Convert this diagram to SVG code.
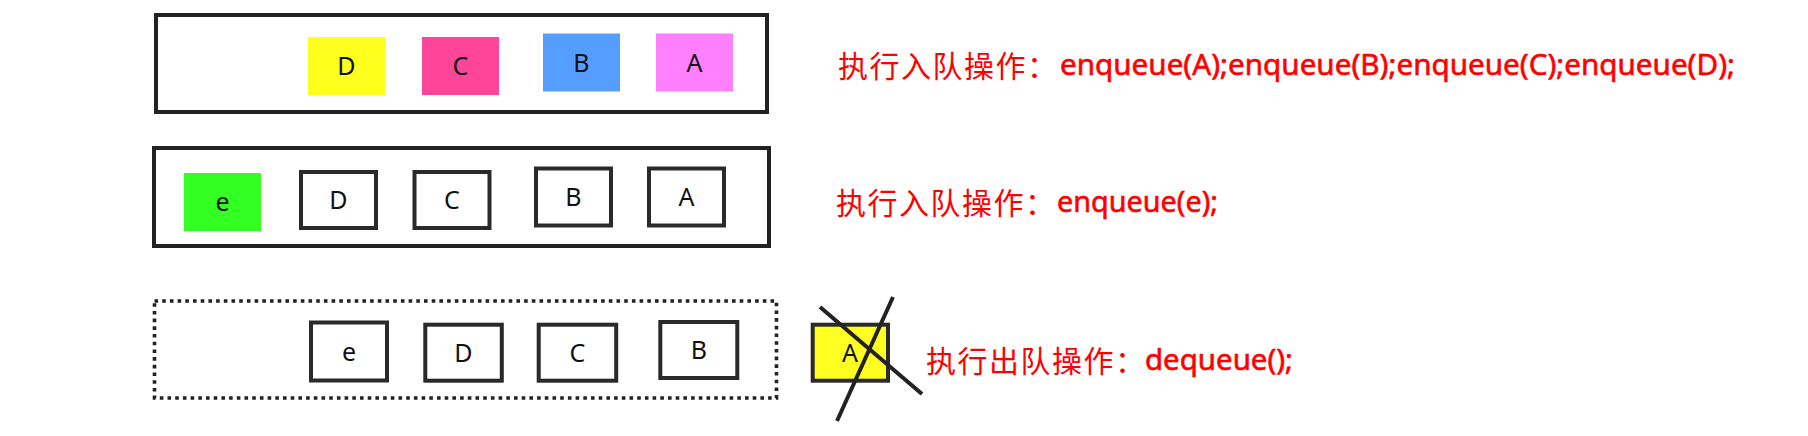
<svg xmlns="http://www.w3.org/2000/svg" width="1808" height="436" viewBox="0 0 1808 436">
<style>
.bg{fill:#ffffff}
.frame{fill:none;stroke:#222;stroke-width:4}
.dotted{fill:none;stroke:#222;stroke-width:3.6;stroke-dasharray:3.6 4.1}
.box{fill:#ffffff;stroke:#2a2a2a;stroke-width:4}
.hit{fill:#ffff22}
.lbl{font-family:"Noto Sans","DejaVu Sans",sans-serif;font-size:25px;fill:#111;text-anchor:middle}
.cn{font-family:"Noto Sans CJK SC","Noto Sans",sans-serif;font-size:30px;fill:#ff0000}
.en{font-family:"Noto Sans","DejaVu Sans",sans-serif;font-size:29px;fill:#ff0000;stroke:#ff0000;stroke-width:0.6}
.cross{stroke:#222;stroke-width:4;stroke-linecap:butt}
</style>
<rect class="bg" x="0" y="0" width="1808" height="436"/>

<g id="row1">
  <rect class="frame" x="156" y="15" width="611" height="97"/>
  <g id="r1-D"><rect x="308" y="37" width="77" height="58" fill="#ffff1e"/><text class="lbl" x="346.5" y="75">D</text></g>
  <g id="r1-C"><rect x="422" y="37" width="77" height="58" fill="#ff4599"/><text class="lbl" x="460.5" y="75">C</text></g>
  <g id="r1-B"><rect x="543" y="33.5" width="77" height="58" fill="#559dff"/><text class="lbl" x="581.5" y="71.5">B</text></g>
  <g id="r1-A"><rect x="656" y="33.5" width="77" height="58" fill="#ff80ff"/><text class="lbl" x="694.5" y="71.5">A</text></g>
  <g id="r1-text">
    <text class="cn" x="838" y="77" textLength="219" lengthAdjust="spacing">执行入队操作：</text>
    <text class="en" x="1060" y="75" textLength="675" lengthAdjust="spacingAndGlyphs">enqueue(A);enqueue(B);enqueue(C);enqueue(D);</text>
  </g>
</g>

<g id="row2">
  <rect class="frame" x="154" y="148" width="615" height="98"/>
  <g id="r2-e"><rect x="184" y="173" width="77" height="58" fill="#33ff22"/><text class="lbl" x="222.5" y="211">e</text></g>
  <g id="r2-D"><rect class="box" x="301" y="172" width="75" height="56"/><text class="lbl" x="338.5" y="209">D</text></g>
  <g id="r2-C"><rect class="box" x="414.5" y="172" width="75" height="56"/><text class="lbl" x="452" y="209">C</text></g>
  <g id="r2-B"><rect class="box" x="536" y="168.5" width="75" height="57"/><text class="lbl" x="573.5" y="206">B</text></g>
  <g id="r2-A"><rect class="box" x="649" y="168.5" width="75" height="57"/><text class="lbl" x="686.5" y="206">A</text></g>
  <g id="r2-text">
    <text class="cn" x="836" y="214" textLength="219" lengthAdjust="spacing">执行入队操作：</text>
    <text class="en" x="1057" y="212" textLength="161" lengthAdjust="spacingAndGlyphs">enqueue(e);</text>
  </g>
</g>

<g id="row3">
  <rect class="dotted" x="154.5" y="301" width="622" height="97"/>
  <g id="r3-e"><rect class="box" x="311" y="322.5" width="76" height="58"/><text class="lbl" x="349" y="361">e</text></g>
  <g id="r3-D"><rect class="box" x="425.3" y="324.7" width="76.5" height="56"/><text class="lbl" x="463.5" y="362">D</text></g>
  <g id="r3-C"><rect class="box" x="538.7" y="324.7" width="77.5" height="56"/><text class="lbl" x="577.5" y="362">C</text></g>
  <g id="r3-B"><rect class="box" x="660.3" y="322" width="77" height="56"/><text class="lbl" x="699" y="359">B</text></g>
  <g id="r3-A"><rect class="box hit" x="812.7" y="324.7" width="75.3" height="56"/><text class="lbl" x="850" y="362">A</text></g>
  <g id="r3-text">
    <text class="cn" x="926" y="372" textLength="219" lengthAdjust="spacing">执行出队操作：</text>
    <text class="en" x="1145" y="370" textLength="148" lengthAdjust="spacingAndGlyphs">dequeue();</text>
  </g>
</g>

<g id="connectors">
  <line class="cross" x1="820" y1="307" x2="922" y2="394"/>
  <line class="cross" x1="893" y1="297" x2="837" y2="421"/>
</g>
</svg>
